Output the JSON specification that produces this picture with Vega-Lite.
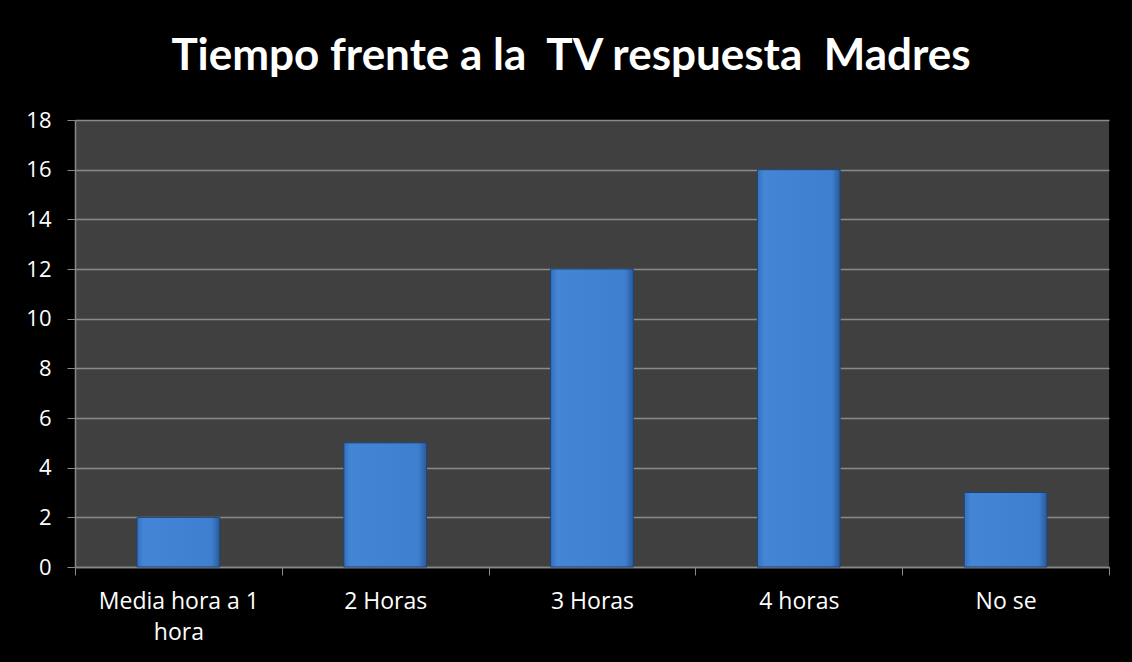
{
  "$schema": "https://vega.github.io/schema/vega-lite/v6.json",
  "autosize": {"type": "none"},
  "width": 1034,
  "height": 447,
  "padding": {"left": 75, "top": 120, "right": 23, "bottom": 95},
  "background": "#000000",
  "title": {
    "text": "Tiempo frente a la \u00a0TV respuesta \u00a0Madres",
    "font": "Lato",
    "fontSize": 44,
    "fontWeight": "bold",
    "color": "#ffffff",
    "anchor": "middle",
    "baseline": "alphabetic",
    "offset": -5,
    "dx": -21
  },
  "data": {
    "values": [
      {"categoria": "Media hora a 1 hora", "valor": 2},
      {"categoria": "2 Horas", "valor": 5},
      {"categoria": "3 Horas", "valor": 12},
      {"categoria": "4 horas", "valor": 16},
      {"categoria": "No se", "valor": 3}
    ]
  },
  "mark": {
    "type": "bar",
    "width": {"band": 0.4},
    "stroke": "#1d4478",
    "strokeWidth": 1,
    "color": {
      "gradient": "linear",
      "x1": 0, "y1": 0, "x2": 1, "y2": 0,
      "stops": [
        {"offset": 0, "color": "#3470bd"},
        {"offset": 0.08, "color": "#4585d6"},
        {"offset": 0.9, "color": "#3f7fd0"},
        {"offset": 1, "color": "#2a5a9a"}
      ]
    }
  },
  "encoding": {
    "x": {
      "field": "categoria",
      "type": "nominal",
      "sort": null,
      "title": null,
      "scale": {"paddingInner": 0, "paddingOuter": 0},
      "axis": {
        "labelAngle": 0,
        "labelFont": "Open Sans",
        "labelFontSize": 23,
        "labelColor": "#ffffff",
        "labelPadding": 15,
        "labelLineHeight": 31,
        "labelExpr": "datum.label == 'Media hora a 1 hora' ? ['Media hora a 1', 'hora'] : datum.label",
        "tickBand": "extent",
        "tickSize": 8,
        "tickColor": "#888888",
        "domainColor": "#888888",
        "domainWidth": 1.5,
        "grid": false
      }
    },
    "y": {
      "field": "valor",
      "type": "quantitative",
      "title": null,
      "scale": {"domain": [0, 18], "nice": false},
      "axis": {
        "values": [0, 2, 4, 6, 8, 10, 12, 14, 16, 18],
        "labelFont": "Open Sans",
        "labelFontSize": 22,
        "labelColor": "#ffffff",
        "labelPadding": 16,
        "tickSize": 8,
        "tickColor": "#888888",
        "domainColor": "#888888",
        "domainWidth": 1.5,
        "grid": true,
        "gridColor": "#8a8a8a",
        "gridWidth": 1.5
      }
    }
  },
  "config": {
    "view": {"fill": "#404040", "stroke": null}
  }
}
